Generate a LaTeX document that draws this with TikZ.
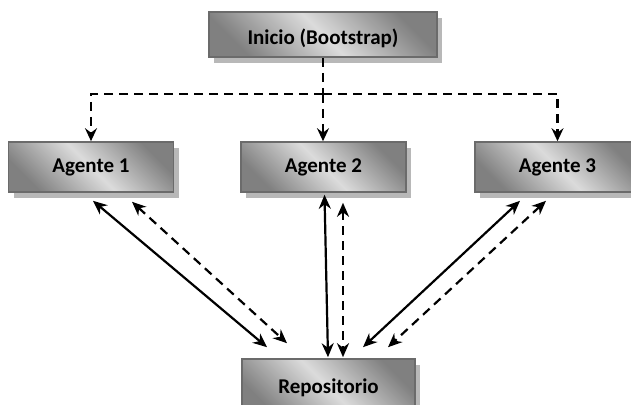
\documentclass[tikz,border=0pt]{standalone}
\usepackage{fontspec}
\setmainfont{Carlito}
\usepackage{xcolor}
\usepackage{tikz}
\usetikzlibrary{arrows.meta,shadows}
\definecolor{borde}{rgb}{0.42,0.42,0.42}
\definecolor{oscuro}{rgb}{0.50,0.50,0.50}
\definecolor{claro}{rgb}{0.86,0.86,0.86}
\definecolor{sombra}{rgb}{0.72,0.72,0.72}

\begin{document}
\begin{tikzpicture}[x=1pt,y=1pt]
    \def\wa{165pt}
    \def\ha{50pt}
    \tikzstyle{caja}=[draw=borde, line width=1.6pt, top color=oscuro, bottom color=oscuro,
        middle color=claro, shading angle=-45,
        drop shadow={fill=sombra, opacity=1, shadow xshift=5pt, shadow yshift=-6pt},
        minimum width=\wa, minimum height=\ha, inner sep=0pt,
        font=\bfseries\fontsize{21}{25}\selectfont]

    \useasboundingbox (0,0) rectangle (631,404);
    \clip (0,0) rectangle (631,404);

    \node[caja, minimum width=228pt, minimum height=45pt, text height=25pt, text depth=4pt] (inicio) at (323,369.5) {Inicio (Bootstrap)};
    \node[caja] (agente1) at (91,237) {Agente 1};
    \node[caja] (agente2) at (323.5,237) {Agente 2};
    \node[caja] (agente3) at (557.5,237) {Agente 3};
    \node[caja, minimum width=173pt, minimum height=57pt] (repo) at (328.5,16.5) {Repositorio};
    \coordinate (bus) at (323,310);

    \tikzstyle{ramal} = [draw=black, line width=2.2pt, dash pattern=on 9pt off 6pt]
    \tikzstyle{linea} = [draw=black, line width=2.2pt, {Stealth[length=14pt, width=12pt, inset=4.5pt]}-{Stealth[length=14pt, width=12pt, inset=4.5pt]}]
    \tikzstyle{guion} = [linea, dash pattern=on 9pt off 6pt]

          \draw [ramal] (inicio.south) -- (bus);
          \draw [ramal, -{Stealth[length=13pt, width=12pt, inset=4.5pt]}] (bus) -| (agente1.north);
          \draw [ramal, -{Stealth[length=13pt, width=12pt, inset=4.5pt]}] (bus) -- (bus |- agente2.north);
          \draw [ramal, -{Stealth[length=13pt, width=12pt, inset=4.5pt]}] (bus) -| (agente3.north);

          \draw [linea] ([xshift=2pt,yshift=-8pt]agente1.south) -- ([xshift=-61.5pt,yshift=11pt]repo.north);
          \draw [guion] ([xshift=41pt,yshift=-9pt]agente1.south) -- ([xshift=-41.5pt,yshift=15pt]repo.north);

          \draw [linea] ([xshift=1pt,yshift=-2pt]agente2.south) -- ([xshift=-0.5pt,yshift=1pt]repo.north);
          \draw [guion] ([xshift=19.5pt,yshift=-10pt]agente2.south) -- ([xshift=14.5pt,yshift=1pt]repo.north);

          \draw [linea] ([xshift=-37.5pt,yshift=-8pt]agente3.south) -- ([xshift=34.5pt,yshift=11pt]repo.north);
          \draw [guion] ([xshift=-11.5pt,yshift=-8pt]agente3.south) -- ([xshift=59.5pt,yshift=11pt]repo.north);
  \end{tikzpicture}
\end{document}
